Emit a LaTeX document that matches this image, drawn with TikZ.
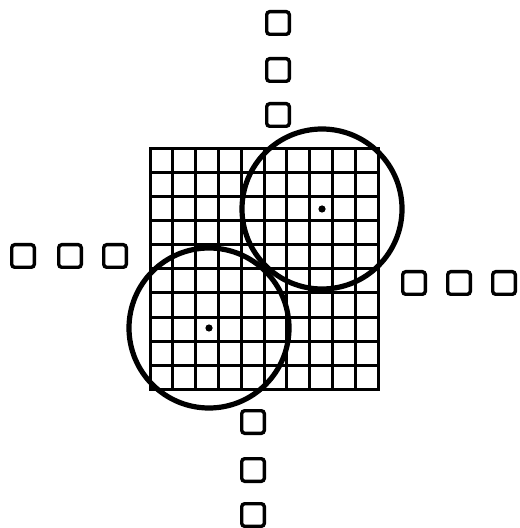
\documentclass[tikz,border=0pt]{standalone}
\usepackage{tikz}
\usetikzlibrary{positioning}

\begin{document}
\begin{tikzpicture}[x=0.5pt,y=-0.5pt,
  pixbox/.style={draw,line width=1.7pt,rounded corners=1.5pt,minimum size=11.3pt,inner sep=0pt},
  gridline/.style={line width=1.5pt,line cap=rect},
  ring/.style={line width=2.6pt},
  spot/.style={fill,circle,inner sep=0pt,minimum size=3.6pt}]
  \useasboundingbox (0,0) rectangle (519,528);
  % the 10x10 array
  \foreach \i in {0,...,10} {
    \draw[gridline] ({150+22.8*\i},149) -- ({150+22.8*\i},389);
    \draw[gridline] (150,{149+24*\i}) -- (378,{149+24*\i});
  }
  % outlying pixels
  \foreach \y [count=\k] in {23,70,115}
    \node[pixbox] (top\k) at (278,\y) {};
  \foreach \x [count=\k] in {23,70,115}
    \node[pixbox] (left\k) at (\x,256) {};
  \foreach \x [count=\k] in {414,459,504}
    \node[pixbox] (right\k) at (\x,283) {};
  \foreach \y [count=\k] in {422,470,515}
    \node[pixbox] (bot\k) at (253,\y) {};
  % the two windows
  \node[spot] (upper) at (322,209) {};
  \node[spot] (lower) at (209,328) {};
  \draw[ring] (upper) circle[radius=80];
  \draw[ring] (lower) circle[radius=80];
\end{tikzpicture}
\end{document}
